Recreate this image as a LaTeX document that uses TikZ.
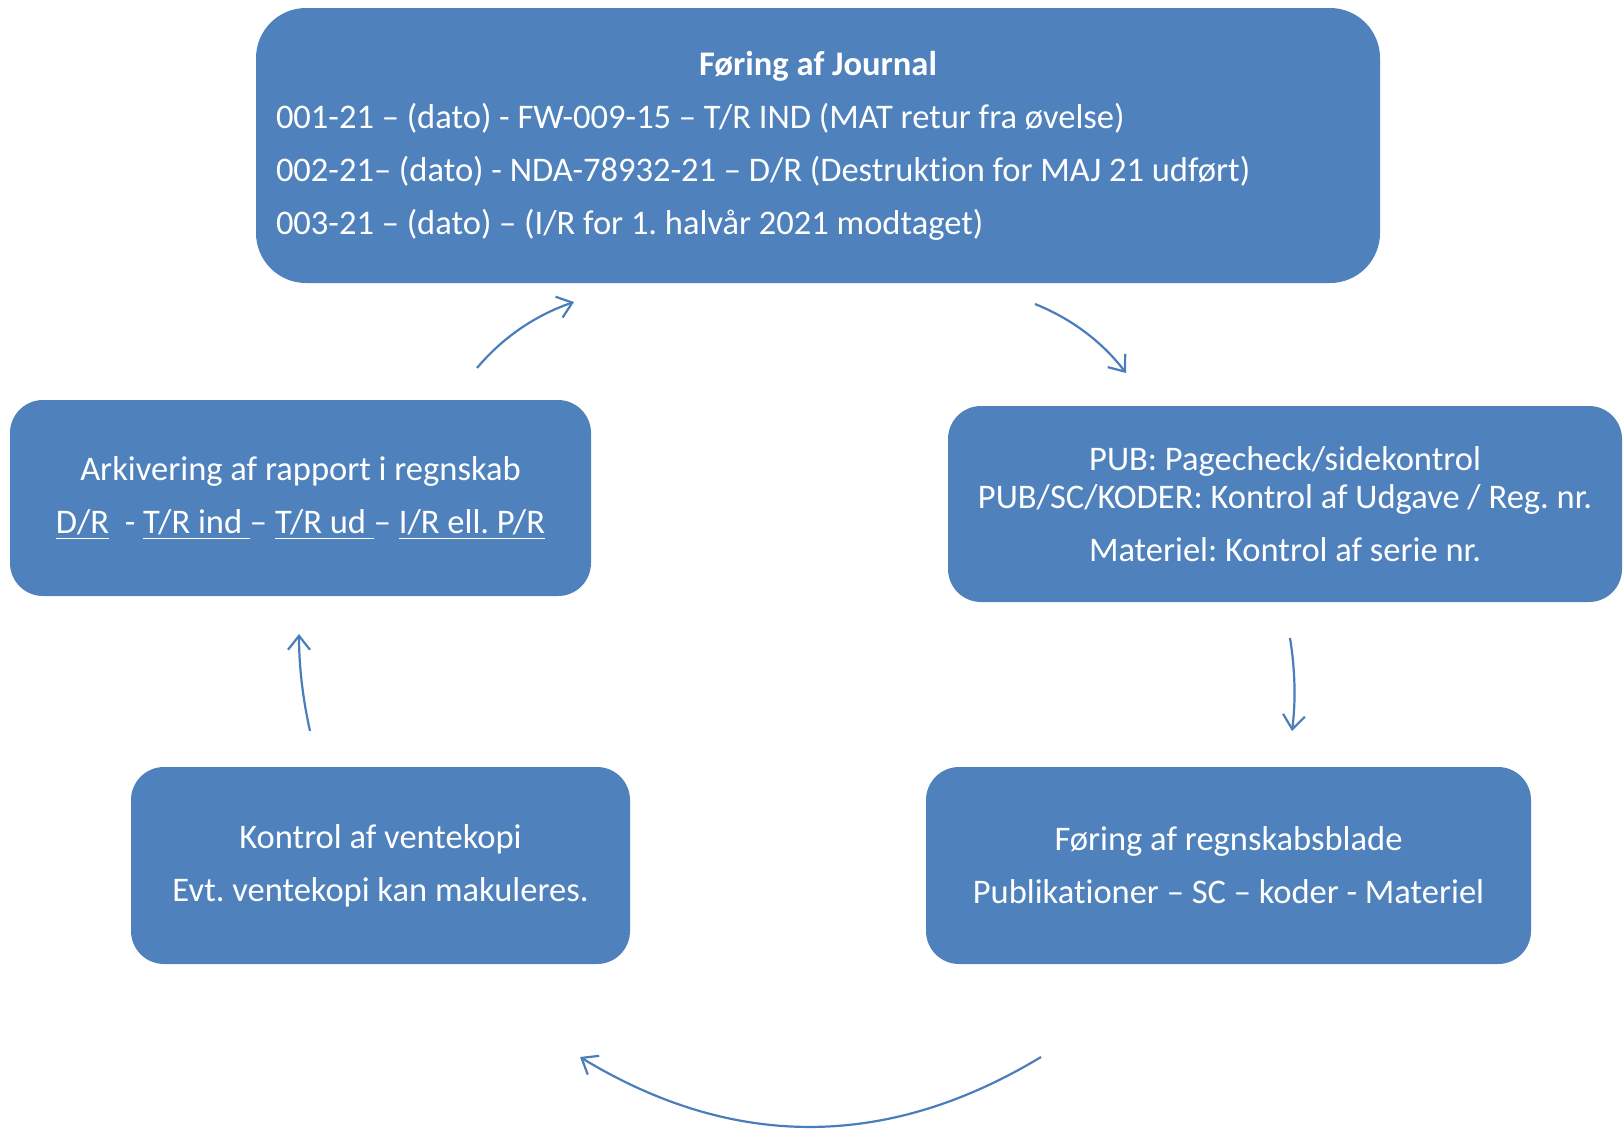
\documentclass[tikz,border=0pt]{standalone}
\usepackage{fontspec}
\setmainfont{Carlito}[Ligatures=NoCommon]
\usetikzlibrary{arrows.meta}
\definecolor{boxblue}{HTML}{4F81BD}
\definecolor{arrowblue}{HTML}{4A7EBB}
\newcommand\ulbox[1]{\setbox0\hbox{#1}\rlap{\rule[-6pt]{\wd0}{1.8pt}}\box0}
\frenchspacing
\begin{document}
\begin{tikzpicture}[x=1pt,y=-1pt,
  box/.style={draw=none, fill=boxblue, text=white, rounded corners=33pt, inner sep=0pt,
    font=\fontsize{34.5}{53}\selectfont\frenchspacing, align=center},
  flow/.style={draw=arrowblue, line width=2.2pt, -{Straight Barb[length=14pt,width=22pt]}}]
\useasboundingbox (0,0) rectangle (1623,1128);
\node[box, minimum width=1124pt, minimum height=275pt, rounded corners=50pt, text width=1084pt, align=flush left] (journal) at (818,145.5)
 {\makebox[1084pt]{\textbf{Føring af Journal}}\\
  001-21 – (dato) - FW-009-15 – T/R IND (MAT retur fra øvelse)\\
  002-21– (dato) - NDA-78932-21 – D/R (Destruktion for MAJ 21 udført)\\
  003-21 – (dato) – (I/R for 1. halvår 2021 modtaget)};
\node[box, minimum width=581pt, minimum height=196pt] (archive) at (300.5,498)
 {Arkivering af rapport i regnskab\\
  \ulbox{D/R}\ \ - \ulbox{T/R ind }– \ulbox{T/R ud }– \ulbox{I/R ell. P/R}};
\node[box, minimum width=674pt, minimum height=196pt, font=\fontsize{34.5}{38}\selectfont\frenchspacing] (check) at (1285,504)
 {PUB: Pagecheck/sidekontrol\\
  PUB/SC/KODER: Kontrol af Udgave / Reg. nr.\\[15pt]
  Materiel: Kontrol af serie nr.};
\node[box, minimum width=605pt, minimum height=197pt] (ledger) at (1228.5,865.5)
 {Føring af regnskabsblade\\ Publikationer – SC – koder - Materiel};
\node[box, minimum width=499pt, minimum height=197pt] (copy) at (380.5,865.5)
 {Kontrol af ventekopi\\ Evt. ventekopi kan makuleres.};
\coordinate (a1s) at (477,368); \coordinate (a1e) at (574,302);
\coordinate (a2s) at (1035,304); \coordinate (a2e) at (1126,373);
\coordinate (a3s) at (1290,638); \coordinate (a3e) at (1292,731);
\coordinate (a4s) at (1041,1057); \coordinate (a4e) at (580,1057);
\coordinate (a5s) at (310,731); \coordinate (a5e) at (299,634);
\draw[flow] (a1s) .. controls (503,337) and (536,315) .. (a1e);
\draw[flow] (a2s) .. controls (1071,318.5) and (1102,341.5) .. (a2e);
\draw[flow] (a3s) .. controls (1295,669) and (1296,700) .. (a3e);
\draw[flow] (a4s) .. controls (887,1150) and (733,1150) .. (a4e);
\draw[flow] (a5s) .. controls (303,699.5) and (299,667.5) .. (a5e);
\end{tikzpicture}
\end{document}
